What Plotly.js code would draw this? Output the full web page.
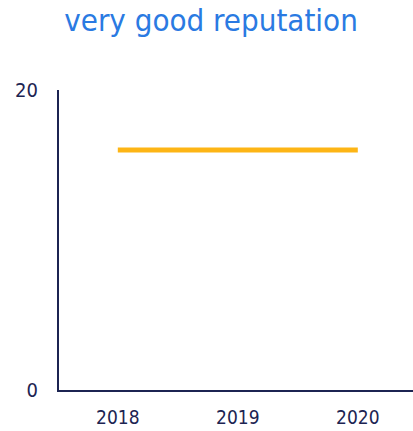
<!DOCTYPE html>
<html>
<head>
<meta charset="utf-8">
<script src="https://cdn.plot.ly/plotly-3.0.1.min.js"></script>
<style>html,body{margin:0;padding:0;background:#fff;}#chart{width:413px;height:431px;}</style>
</head>
<body>
<div id="chart"></div>
<script>
const years = ['2018', '2019', '2020'];
const values = [16, 16, 16];
const yTicks = [0, 20];
const titleText = 'very good reputation';

const font = 'Tahoma, "DejaVu Sans Condensed", "DejaVu Sans", sans-serif';
const axisColor = '#1c2452';

Plotly.newPlot('chart', [{
  x: years,
  y: values,
  type: 'scatter',
  mode: 'lines',
  line: {color: '#fdb515', width: 5},
  hoverinfo: 'none'
}], {
  width: 413,
  height: 431,
  margin: {l: 59, r: 0, t: 90, b: 41, pad: 0},
  paper_bgcolor: '#ffffff',
  plot_bgcolor: '#ffffff',
  showlegend: false,
  title: {
    text: titleText,
    font: {family: font, size: 31, color: '#2a7ae2'},
    xref: 'container', x: 0.511, xanchor: 'center',
    yref: 'container', y: 0.953, yanchor: 'middle'
  },
  xaxis: {
    type: 'category',
    range: [-0.49, 2.46],
    showgrid: false,
    zeroline: false,
    showline: true,
    linecolor: axisColor,
    linewidth: 2,
    ticks: '',
    ticklabelstandoff: 9,
    tickfont: {family: font, size: 19, color: axisColor}
  },
  yaxis: {
    range: [0, 20],
    tickvals: yTicks,
    ticktext: yTicks.map(String),
    showgrid: false,
    zeroline: false,
    showline: true,
    linecolor: axisColor,
    linewidth: 2,
    ticks: '',
    ticklabelstandoff: 15,
    tickfont: {family: font, size: 20, color: axisColor}
  }
}, {staticPlot: true, displayModeBar: false});
</script>
</body>
</html>
